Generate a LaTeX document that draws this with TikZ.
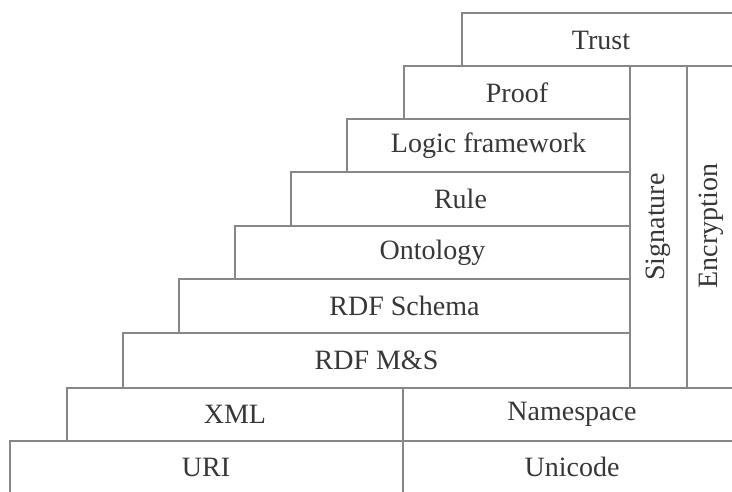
\documentclass[tikz,border=0pt]{standalone}
\usepackage{fontspec}
\setmainfont{Liberation Serif}
\usetikzlibrary{fit}
\definecolor{linegray}{RGB}{135,135,135}
\definecolor{textgray}{RGB}{55,55,55}
\tikzset{
  layer/.style={draw=linegray, line width=1.8pt, inner sep=0pt, outer sep=0pt,
    font=\fontsize{28}{30}\selectfont, text=textgray},
  vlabel/.style={rotate=90, font=\fontsize{28}{30}\selectfont, text=textgray}
}
\begin{document}
\begin{tikzpicture}[x=1pt, y=-1pt]
  \useasboundingbox (0,0) rectangle (732,491);
  \clip (0,0) rectangle (732,491);
  % stacked layers, top to bottom
  \node[layer, fit={(462,13) (745,66)}] (trust) {};
  \node[layer, fit={(404,66) (630,119)}] (proof) {};
  \node[layer, fit={(347,119) (630,172)}] (logic) {};
  \node[layer, fit={(291,172) (630,226)}] (rule) {};
  \node[layer, fit={(235,226) (630,279)}] (ontology) {};
  \node[layer, fit={(179,279) (630,333)}] (rdfs) {};
  \node[layer, fit={(123,333) (630,388)}] (rdfms) {};
  % vertical columns
  \node[layer, fit={(630,66) (687,388)}] (signature) {};
  \node[layer, fit={(687,66) (745,388)}] (encryption) {};
  % base layers
  \node[layer, fit={(67,388) (403,441)}] (xml) {};
  \node[layer, fit={(403,388) (745,441)}] (namespace) {};
  \node[layer, fit={(10,441) (403,500)}] (uri) {};
  \node[layer, fit={(403,441) (745,500)}] (unicode) {};
  % labels
  \node[layer, draw=none] at (601,40) {Trust};
  \node[layer, draw=none] at (proof.center) {Proof};
  \node[layer, draw=none] at (logic.center) {Logic framework};
  \node[layer, draw=none] at (rule.center) {Rule};
  \node[layer, draw=none] at (ontology.center) {Ontology};
  \node[layer, draw=none] at (rdfs.center) {RDF Schema};
  \node[layer, draw=none] at (rdfms.center) {RDF M\&S};
  \node[vlabel] at (signature.center) {Signature};
  \node[vlabel] at (711,226) {Encryption};
  \node[layer, draw=none] at (235,414) {XML};
  \node[layer, draw=none] at (572,414) {Namespace};
  \node[layer, draw=none] at (206,467) {URI};
  \node[layer, draw=none] at (572,467) {Unicode};
\end{tikzpicture}
\end{document}
